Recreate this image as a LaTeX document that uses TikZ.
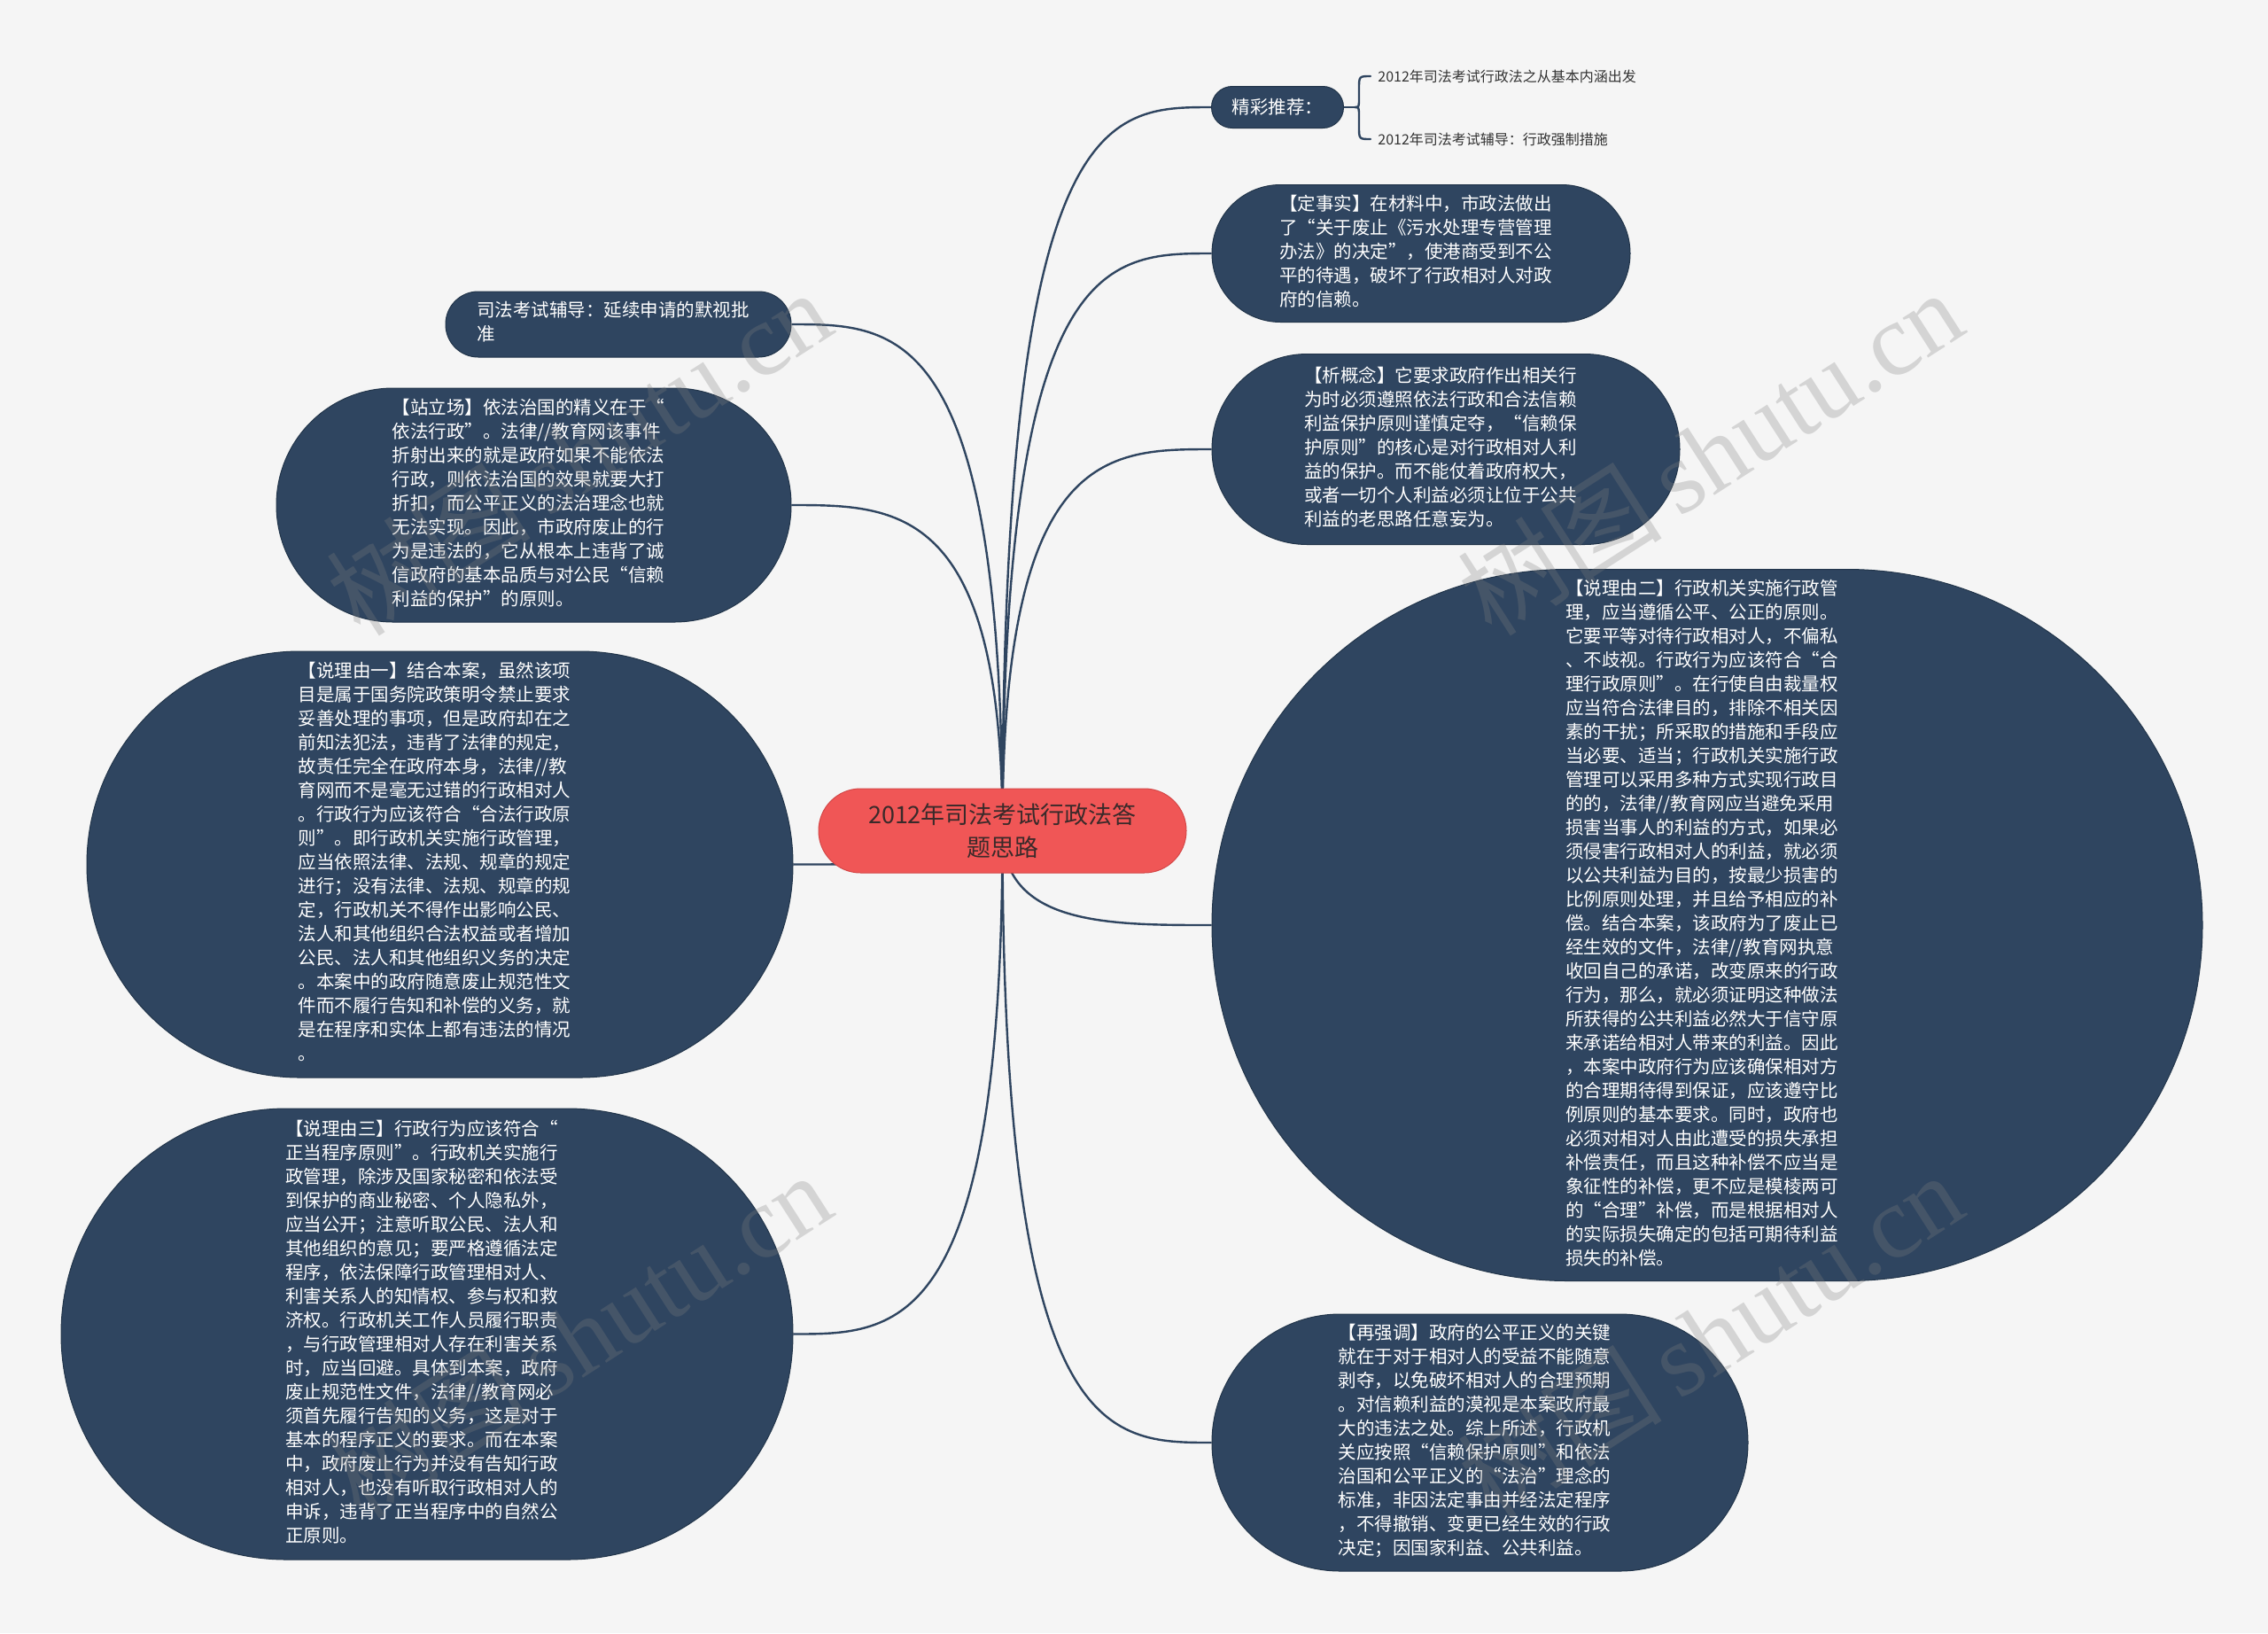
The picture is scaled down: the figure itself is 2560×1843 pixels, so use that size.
\documentclass[tikz,border=0pt]{standalone}
\usepackage{fontspec}
\usetikzlibrary{calc}
\newfontfamily\cjk{Noto Sans CJK SC}
\newfontfamily\wmlat{Liberation Serif}
\definecolor{pagebg}{HTML}{F5F5F5}
\definecolor{bubfill}{HTML}{2F4560}
\definecolor{bubedge}{HTML}{22354A}
\definecolor{rootfill}{HTML}{F05656}
\definecolor{rootedge}{HTML}{D44848}
\definecolor{roottext}{HTML}{3A2A2A}
\definecolor{subtext}{HTML}{333333}
\newcommand\btxt[3]{\hspace*{#1}\begin{tabular}{@{}l@{}}#3\end{tabular}\hspace*{#2}}
\pgfdeclarelayer{bg}\pgfdeclarelayer{conn}\pgfdeclarelayer{wmark}
\pgfsetlayers{bg,conn,main,wmark}
\begin{document}
\begin{tikzpicture}[x=0.5pt,y=-0.5pt,
  bub/.style={draw=bubedge, line width=0.5pt, fill=bubfill, text=white, inner sep=0pt,
    font=\cjk\fontsize{10.25}{13.5}\selectfont},
  rootnode/.style={draw=rootedge, line width=0.5pt, fill=rootfill, text=roottext, align=center, inner sep=0pt,
    font=\cjk\fontsize{13.5}{18.5}\selectfont},
  subnode/.style={text=subtext, anchor=west, inner sep=0pt, font=\cjk\fontsize{8}{10}\selectfont},
  conn/.style={draw=bubfill, line width=1.2pt},
  wm/.style={text=gray, opacity=0.28, inner sep=0pt, font=\fontsize{58}{60}\selectfont}]
\begin{pgfonlayer}{bg}
\fill[pagebg] (0,0) rectangle (2560,1843);
\end{pgfonlayer}
\useasboundingbox (0,0) rectangle (2560,1843);

% root
\node[rootnode, minimum width=207.5pt, minimum height=47.5pt, rounded corners=23.7pt] (root) at (1131.5,937.5)
 {2012年司法考试行政法答\\题思路};

% right side
\node[bub, minimum width=74.5pt, minimum height=23.5pt, rounded corners=11.7pt] (tj) at (1442,121) {精彩推荐：};
\coordinate (br) at (1529,121);
\node[subnode] (tj1) at (1555,86) {2012年司法考试行政法之从基本内涵出发};
\node[subnode] (tj2) at (1555,157) {2012年司法考试辅导：行政强制措施};

\node[bub, minimum width=236pt, minimum height=77.5pt, rounded corners=38.7pt] (dss) at (1604,286)
 {\btxt{0pt}{6pt}{【定事实】在材料中，市政法做出\\了“关于废止《污水处理专营管理\\办法》的决定”，使港商受到不公\\平的待遇，破坏了行政相对人对政\\府的信赖。}};

\node[bub, minimum width=264pt, minimum height=107.5pt, rounded corners=53.7pt] (xgn) at (1632,507)
 {\btxt{0pt}{6pt}{【析概念】它要求政府作出相关行\\为时必须遵照依法行政和合法信赖\\利益保护原则谨慎定夺，“信赖保\\护原则”的核心是对行政相对人利\\益的保护。而不能仗着政府权大，\\或者一切个人利益必须让位于公共\\利益的老思路任意妄为。}};

\node[bub, minimum width=559pt, minimum height=401.5pt, rounded corners=200.7pt] (slly2) at (1927,1044)
 {\btxt{0pt}{6pt}{【说理由二】行政机关实施行政管\\理，应当遵循公平、公正的原则。\\它要平等对待行政相对人，不偏私\\、不歧视。行政行为应该符合“合\\理行政原则”。在行使自由裁量权\\应当符合法律目的，排除不相关因\\素的干扰；所采取的措施和手段应\\当必要、适当；行政机关实施行政\\管理可以采用多种方式实现行政目\\的的，法律//教育网应当避免采用\\损害当事人的利益的方式，如果必\\须侵害行政相对人的利益，就必须\\以公共利益为目的，按最少损害的\\比例原则处理，并且给予相应的补\\偿。结合本案，该政府为了废止已\\经生效的文件，法律//教育网执意\\收回自己的承诺，改变原来的行政\\行为，那么，就必须证明这种做法\\所获得的公共利益必然大于信守原\\来承诺给相对人带来的利益。因此\\，本案中政府行为应该确保相对方\\的合理期待得到保证，应该遵守比\\例原则的基本要求。同时，政府也\\必须对相对人由此遭受的损失承担\\补偿责任，而且这种补偿不应当是\\象征性的补偿，更不应是模棱两可\\的“合理”补偿，而是根据相对人\\的实际损失确定的包括可期待利益\\损失的补偿。}};

\node[bub, minimum width=302.5pt, minimum height=145pt, rounded corners=72.4pt] (zqd) at (1670.5,1628)
 {\btxt{0pt}{6pt}{【再强调】政府的公平正义的关键\\就在于对于相对人的受益不能随意\\剥夺，以免破坏相对人的合理预期\\。对信赖利益的漠视是本案政府最\\大的违法之处。综上所述，行政机\\关应按照“信赖保护原则”和依法\\治国和公平正义的“法治”理念的\\标准，非因法定事由并经法定程序\\，不得撤销、变更已经生效的行政\\决定；因国家利益、公共利益。}};

% left side
\node[bub, minimum width=195pt, minimum height=37pt, rounded corners=18.4pt] (sfks) at (698,366)
 {\btxt{0pt}{6pt}{司法考试辅导：延续申请的默视批\\准}};

\node[bub, minimum width=290.5pt, minimum height=132pt, rounded corners=65.9pt] (zlc) at (602.5,570)
 {\btxt{0pt}{6pt}{【站立场】依法治国的精义在于“\\依法行政”。法律//教育网该事件\\折射出来的就是政府如果不能依法\\行政，则依法治国的效果就要大打\\折扣，而公平正义的法治理念也就\\无法实现。因此，市政府废止的行\\为是违法的，它从根本上违背了诚\\信政府的基本品质与对公民“信赖\\利益的保护”的原则。}};

\node[bub, minimum width=398.5pt, minimum height=240.5pt, rounded corners=120.2pt] (slly1) at (496.5,975.5)
 {\btxt{0pt}{6pt}{【说理由一】结合本案，虽然该项\\目是属于国务院政策明令禁止要求\\妥善处理的事项，但是政府却在之\\前知法犯法，违背了法律的规定，\\故责任完全在政府本身，法律//教\\育网而不是毫无过错的行政相对人\\。行政行为应该符合“合法行政原\\则”。即行政机关实施行政管理，\\应当依照法律、法规、规章的规定\\进行；没有法律、法规、规章的规\\定，行政机关不得作出影响公民、\\法人和其他组织合法权益或者增加\\公民、法人和其他组织义务的决定\\。本案中的政府随意废止规范性文\\件而不履行告知和补偿的义务，就\\是在程序和实体上都有违法的情况\\。}};

\node[bub, minimum width=413pt, minimum height=254.5pt, rounded corners=127.2pt] (slly3) at (482,1505.5)
 {\btxt{0pt}{6pt}{【说理由三】行政行为应该符合“\\正当程序原则”。行政机关实施行\\政管理，除涉及国家秘密和依法受\\到保护的商业秘密、个人隐私外，\\应当公开；注意听取公民、法人和\\其他组织的意见；要严格遵循法定\\程序，依法保障行政管理相对人、\\利害关系人的知情权、参与权和救\\济权。行政机关工作人员履行职责\\，与行政管理相对人存在利害关系\\时，应当回避。具体到本案，政府\\废止规范性文件，法律//教育网必\\须首先履行告知的义务，这是对于\\基本的程序正义的要求。而在本案\\中，政府废止行为并没有告知行政\\相对人，也没有听取行政相对人的\\申诉，违背了正当程序中的自然公\\正原则。}};

% connectors
\begin{pgfonlayer}{conn}
\foreach \t in {tj,dss,xgn,slly2,zqd}{
  \draw[conn] (root.center) .. controls (root.center |- \t.west) and ($(root.center |- \t.west)!0.5!(\t.west)$) .. (\t.west);
}
\foreach \t in {sfks,zlc,slly1,slly3}{
  \draw[conn] (root.center) .. controls (root.center |- \t.east) and ($(root.center |- \t.east)!0.5!(\t.east)$) .. (\t.east);
}
\draw[conn] (tj.east) -- (br);
\draw[conn, line cap=round] (1547,86) .. controls (1534,86) .. (1534,100) -- (1534,110)
  .. controls (1534,121) .. (br) .. controls (1534,121) .. (1534,132) -- (1534,143)
  .. controls (1534,157) .. (1547,157);
\end{pgfonlayer}

% watermarks
\begin{pgfonlayer}{wmark}
\node[wm, rotate=32.7] (wm1) at (653,510) {\cjk 树图\,\wmlat shutu.cn};
\node[wm, rotate=32.7] (wm2) at (1930,510) {\cjk 树图\,\wmlat shutu.cn};
\node[wm, rotate=32.7] (wm3) at (653,1506) {\cjk 树图\,\wmlat shutu.cn};
\node[wm, rotate=32.7] (wm4) at (1930,1506) {\cjk 树图\,\wmlat shutu.cn};
\end{pgfonlayer}
\end{tikzpicture}
\end{document}
